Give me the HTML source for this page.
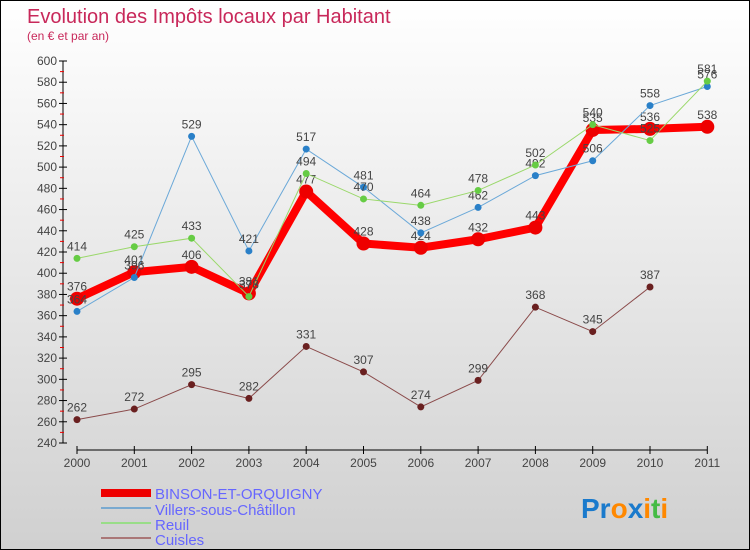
<!DOCTYPE html>
<html><head><meta charset="utf-8"><style>
body{margin:0}
#c{width:748px;height:548px;border:1px solid #000;background:linear-gradient(#fff,#d0d0d0);position:relative;font-family:"Liberation Sans",sans-serif;overflow:hidden}
</style></head><body>
<div id="c">
<svg id="s" width="748" height="548" style="position:absolute;left:0;top:0">
<text x="26" y="22" font-size="20" fill="#c8285a">Evolution des Impôts locaux par Habitant</text>
<text x="26" y="39" font-size="12" fill="#c8285a">(en € et par an)</text>
<g id="axes"></g><g id="series"></g>
<g>
<rect x="100" y="488" width="50" height="8" fill="#e00"/>
<text x="154" y="498" font-size="15" fill="#66f">BINSON-ET-ORQUIGNY</text>
<line x1="100" y1="507" x2="150" y2="507" stroke="#7aaad0" stroke-width="2"/>
<text x="154" y="514" font-size="15" fill="#66f">Villers-sous-Châtillon</text>
<line x1="100" y1="522" x2="150" y2="522" stroke="#9d8" stroke-width="2"/>
<text x="154" y="529" font-size="15" fill="#66f">Reuil</text>
<line x1="100" y1="537" x2="150" y2="537" stroke="#a77" stroke-width="2"/>
<text x="154" y="544" font-size="15" fill="#66f">Cuisles</text>
</g>
<text x="580" y="517" font-size="28" font-weight="bold"><tspan fill="#1a7acc">Pr</tspan><tspan fill="#f80">o</tspan><tspan fill="#1a7acc">x</tspan><tspan fill="#f80">i</tspan><tspan fill="#4b4">t</tspan><tspan fill="#f80">i</tspan></text>
</svg>
</div>
<script>
const years=[2000,2001,2002,2003,2004,2005,2006,2007,2008,2009,2010,2011];
const binson=[376,401,406,381,477,428,424,432,443,535,536,538];
const villers=[364,396,529,421,517,481,438,462,492,506,558,576];
const reuil=[414,425,433,378,494,470,464,478,502,540,525,581];
const cuisles=[262,272,295,282,331,307,274,299,368,345,387,null];
const yTicks=[240,260,280,300,320,340,360,380,400,420,440,460,480,500,520,540,560,580,600];
const NS="http://www.w3.org/2000/svg";
const X=i=>76+i*57.3, Y=v=>442-(v-240)*(382/360);
function mk(t,a,p){const e=document.createElementNS(NS,t);for(const k in a)e.setAttribute(k,a[k]);p.appendChild(e);return e;}
const ax=document.getElementById('axes'),se=document.getElementById('series');
let yl=mk('line',{x1:62,y1:Y(600),x2:62,y2:442,stroke:'#000'},ax);


yTicks.forEach(v=>{mk('line',{x1:58,y1:Y(v),x2:66,y2:Y(v),stroke:'#000'},ax);
 mk('line',{x1:59,y1:Y(v+10),x2:63,y2:Y(v+10),stroke:v<600?'#e00':'none'},ax);
 let t=mk('text',{x:56,y:Y(v)+4,'font-size':12,fill:'#444','text-anchor':'end'},ax);t.textContent=v;
 
 });
let xl=mk('line',{x1:76,y1:449,x2:X(11),y2:449,stroke:'#000'},ax);


years.forEach((y,i)=>{mk('line',{x1:X(i),y1:445,x2:X(i),y2:453,stroke:'#000'},ax);
 let t=mk('text',{x:X(i),y:466,'font-size':12,fill:'#444','text-anchor':'middle'},ax);t.textContent=y;
 
 });
function draw(d,col,dot,w,r,name){
 const g=mk('g',{},se);
 
 
 let pts=d.map((v,i)=>v==null?null:X(i)+','+Y(v)).filter(p=>p).join(' ');
 mk('polyline',{points:pts,fill:'none',stroke:col,'stroke-width':w},g);
 d.forEach((v,i)=>{if(v==null)return;
  let c=mk('circle',{cx:X(i),cy:Y(v),r:r,fill:dot},g);
  
  
  let t=mk('text',{x:X(i),y:Y(v)-8,'font-size':12,fill:'#444','text-anchor':'middle'},g);t.textContent=v;
  
  });
}
draw(cuisles,'#8a4a4a','#6a2020',1,3.5,'cuisles');
draw(binson,'#f00','#e00',8,7,'binson');
draw(villers,'#6aa8d8','#2a80c8',1,3.5,'villers');
draw(reuil,'#9ad86a','#6c4',1,3.5,'reuil');
</script>
</body></html>
